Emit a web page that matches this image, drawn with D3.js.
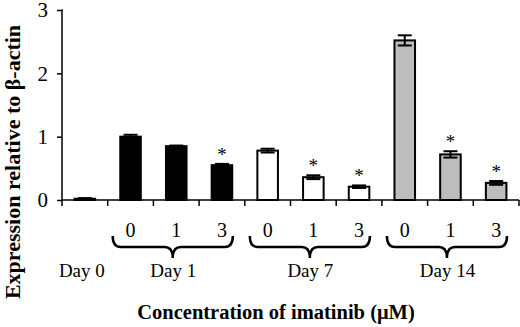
<!DOCTYPE html>
<html>
<head>
<meta charset="utf-8">
<script src="https://cdn.jsdelivr.net/npm/d3@7"></script>
<style>
  body { margin: 0; background: #fff; }
  svg { display: block; font-family: 'Liberation Serif', 'Times New Roman', serif; }
  svg text { font-family: 'Liberation Serif', 'Times New Roman', serif; }
</style>
</head>
<body>
<div id="chart"></div>
<script>
// data
const categories = ['d0', 'd1-0', 'd1-1', 'd1-3', 'd7-0', 'd7-1', 'd7-3', 'd14-0', 'd14-1', 'd14-3'];
const doseLabels = ['', '0', '1', '3', '0', '1', '3', '0', '1', '3'];
const groupOf = ['Day 0', 'Day 1', 'Day 1', 'Day 1', 'Day 7', 'Day 7', 'Day 7', 'Day 14', 'Day 14', 'Day 14'];
const values = [0.02, 1.0, 0.85, 0.55, 0.78, 0.36, 0.21, 2.52, 0.72, 0.27];
const errors = [0.01, 0.03, 0.01, 0.02, 0.03, 0.03, 0.02, 0.08, 0.05, 0.03];
const starred = [false, false, false, true, false, true, true, false, true, true];
const groups = ['Day 0', 'Day 1', 'Day 7', 'Day 14'];
const groupFill = { 'Day 0': '#000', 'Day 1': '#000', 'Day 7': '#fff', 'Day 14': '#bdbdbd' };
const yTicks = [0, 1, 2, 3];

const W = 520, H = 327;
const svg = d3.select('#chart').append('svg').attr('width', W).attr('height', H);

const x = d3.scaleBand().domain(categories).range([62, 519]).paddingInner(0.55).paddingOuter(0.275);
const y = d3.scaleLinear().domain([0, 3]).range([200, 10]);
const step = x.step();
const slotLeft = c => x(c) - x.paddingOuter() * step;

// y axis
const yAxis = svg.append('g').attr('transform', 'translate(62,0)')
    .call(d3.axisLeft(y).tickValues(yTicks).tickSize(5).tickPadding(9).tickFormat(d3.format('d')));
yAxis.attr('font-family', null);
yAxis.select('.domain').attr('stroke-width', 1.5).attr('d', `M-0.5,${y(3)}H0V${y(0)}`);
yAxis.selectAll('.tick line').attr('stroke-width', 1.5);
yAxis.selectAll('.tick text').attr('font-size', '21px').attr('fill', '#000');

// x axis line + boundary ticks
svg.append('line').attr('x1', 62).attr('x2', 519).attr('y1', y(0)).attr('y2', y(0))
    .attr('stroke', '#000').attr('stroke-width', 1.5);
const bounds = categories.map(slotLeft).concat([519]);
svg.selectAll('.xtick').data(bounds).enter().append('line')
    .attr('x1', d => d).attr('x2', d => d).attr('y1', y(0)).attr('y2', y(0) + 6)
    .attr('stroke', '#000').attr('stroke-width', 1.5);

// bars
svg.selectAll('.bar').data(categories).enter().append('rect')
    .attr('x', c => x(c)).attr('width', x.bandwidth())
    .attr('y', (c, i) => y(values[i])).attr('height', (c, i) => y(0) - y(values[i]))
    .attr('fill', (c, i) => groupFill[groupOf[i]])
    .attr('stroke', '#000').attr('stroke-width', 2);

// error bars
const capW = 14;
categories.forEach((c, i) => {
    const cx = x(c) + x.bandwidth() / 2;
    const hi = y(values[i] + errors[i]), lo = y(values[i] - errors[i]);
    const eg = svg.append('g').attr('stroke', '#000').attr('stroke-width', 2);
    eg.append('line').attr('x1', cx).attr('x2', cx).attr('y1', hi).attr('y2', lo);
    eg.append('line').attr('x1', cx - capW / 2).attr('x2', cx + capW / 2).attr('y1', hi).attr('y2', hi);
    eg.append('line').attr('x1', cx - capW / 2).attr('x2', cx + capW / 2).attr('y1', lo).attr('y2', lo);
    if (starred[i]) {
        svg.append('text').attr('x', cx).attr('y', hi - 3)
            .attr('text-anchor', 'middle').attr('font-size', '19px').attr('fill', '#000').text('*');
    }
});

// dose labels
svg.selectAll('.dose').data(categories).enter().append('text')
    .attr('x', c => x(c) + x.bandwidth() / 2).attr('y', 237)
    .attr('text-anchor', 'middle').attr('font-size', '20px').attr('fill', '#000')
    .text((c, i) => doseLabels[i]);

// braces + day labels
groups.forEach(g => {
    const idx = categories.map((c, i) => i).filter(i => groupOf[i] === g);
    const first = categories[idx[0]], last = categories[idx[idx.length - 1]];
    const gx0 = slotLeft(first), gx1 = slotLeft(last) + step;
    const mid = (x(first) + x(last) + x.bandwidth()) / 2 - 3;
    if (idx.length > 1) {
        const x0 = gx0 + 5, x1 = gx1 - 12, cx = (x0 + x1) / 2;
        const y0 = 236, ym = 247, yt = 258, r = 8;
        const path = `M${x0},${y0} Q${x0},${ym} ${x0 + r},${ym} L${cx - r},${ym} Q${cx},${ym} ${cx},${yt}` +
            ` Q${cx},${ym} ${cx + r},${ym} L${x1 - r},${ym} Q${x1},${ym} ${x1},${y0}`;
        svg.append('path').attr('d', path).attr('fill', 'none').attr('stroke', '#000').attr('stroke-width', 2.5);
    }
    svg.append('text').attr('x', mid).attr('y', 277)
        .attr('text-anchor', 'middle').attr('font-size', '19px').attr('fill', '#000').text(g);
});

// axis titles
svg.append('text').attr('x', 276).attr('y', 319).attr('text-anchor', 'middle')
    .attr('font-size', '20.5px').attr('font-weight', 'bold').attr('fill', '#000')
    .text('Concentration of imatinib (μM)');
svg.append('text').attr('transform', 'translate(20,162) rotate(-90)').attr('text-anchor', 'middle')
    .attr('font-size', '22px').attr('font-weight', 'bold').attr('fill', '#000')
    .text('Expression relative to β-actin');
</script>
</body>
</html>
